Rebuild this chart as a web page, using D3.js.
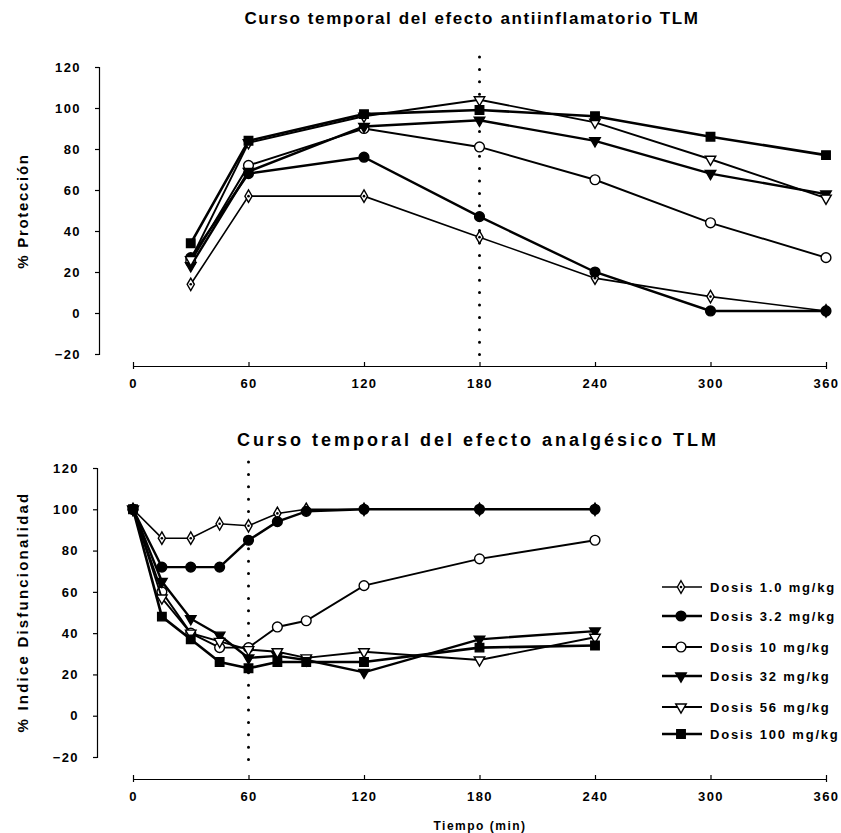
<!DOCTYPE html>
<html>
<head>
<meta charset="utf-8">
<script src="https://cdn.jsdelivr.net/npm/d3@7"></script>
<style>
  body { margin: 0; background: #fff; }
  text { font-family: "Liberation Sans", Arial, sans-serif; font-weight: bold; fill: #000; }
</style>
</head>
<body>
<svg width="841" height="833"></svg>
<script>
// dose groups
var doses = ["Dosis 1.0 mg/kg", "Dosis 3.2 mg/kg", "Dosis 10 mg/kg", "Dosis 32 mg/kg", "Dosis 56 mg/kg", "Dosis 100 mg/kg"];

// top chart: % proteccion
var timesTop = [30, 60, 120, 180, 240, 300, 360];
var top10  = [14, 57, 57, 37, 17, 8, 1];
var top32  = [27, 68, 76, 47, 20, 1, 1];
var top100 = [25, 72, 90, 81, 65, 44, 27];
var top320 = [23, 69, 91, 94, 84, 68, 58];
var top560 = [26, 83, 96, 104, 93, 75, 56];
var top1000 = [34, 84, 97, 99, 96, 86, 77];

// bottom chart: % indice disfuncionalidad
var timesBot = [0, 15, 30, 45, 60, 75, 90, 120, 180, 240];
var bot10  = [100, 86, 86, 93, 92, 98, 100, 100, 100, 100];
var bot32  = [100, 72, 72, 72, 85, 94, 99, 100, 100, 100];
var bot100 = [100, 60, 40, 33, 33, 43, 46, 63, 76, 85];
var bot320 = [100, 65, 47, 39, 28, 29, 27, 21, 37, 41];
var bot560 = [100, 57, 40, 36, 32, 31, 28, 31, 27, 38];
var bot1000 = [100, 48, 37, 26, 23, 26, 26, 26, 33, 34];

var xTicks = [0, 60, 120, 180, 240, 300, 360];
var yTicks = [-20, 0, 20, 40, 60, 80, 100, 120];

var topSeries = [top10, top32, top100, top320, top560, top1000];
var botSeries = [bot10, bot32, bot100, bot320, bot560, bot1000];

// marker style per dose
var styles = [
  {sym: d3.symbolDiamond, size: 45, fill: "#fff", rot: 0, dot: true, width: 1.6},
  {sym: d3.symbolCircle, size: 75, fill: "#000", rot: 0, width: 2.4},
  {sym: d3.symbolCircle, size: 75, fill: "#fff", rot: 0, width: 1.9},
  {sym: d3.symbolTriangle, size: 48, fill: "#000", rot: 180, width: 2.4},
  {sym: d3.symbolTriangle, size: 48, fill: "#fff", rot: 180, width: 1.9},
  {sym: d3.symbolSquare, size: 72, fill: "#000", rot: 0, width: 2.6}
];

var svg = d3.select("svg");

function styleTicks(g) {
  g.selectAll("text")
    .style("font-size", "13px")
    .style("letter-spacing", "1.4px")
    .style("font-family", "Liberation Sans, Arial")
    .style("font-weight", "bold");
  g.selectAll(".domain, .tick line").attr("stroke", "#000").attr("stroke-width", 1.2);
}

function drawPanel(opt) {
  var x = d3.scaleLinear().domain([0, 360]).range([133, 826]);
  var y = d3.scaleLinear().domain([-20, 120]).range(opt.yRange);

  // title
  svg.append("text")
    .attr("x", opt.titleX).attr("y", opt.titleY)
    .attr("text-anchor", "middle")
    .style("font-size", opt.titleSize + "px")
    .style("letter-spacing", opt.titleSpacing + "px")
    .text(opt.title);

  // y axis
  var gy = svg.append("g")
    .attr("transform", "translate(" + opt.yAxisX + ",0)")
    .call(d3.axisLeft(y).tickValues(yTicks).tickSize(4).tickPadding(14).tickSizeOuter(4));
  styleTicks(gy);

  // x axis
  var gx = svg.append("g")
    .attr("transform", "translate(0," + opt.xAxisY + ")")
    .call(d3.axisBottom(x).tickValues(xTicks).tickSizeInner(-4).tickSizeOuter(3).tickPadding(13));
  styleTicks(gx);

  // y label
  svg.append("text")
    .attr("transform", "translate(" + 28 + "," + opt.yLabelY + ") rotate(-90)")
    .attr("text-anchor", "middle")
    .style("font-size", "15px")
    .style("letter-spacing", opt.yLabelSpacing + "px")
    .text(opt.yLabel);

  // dotted line
  svg.append("line")
    .attr("x1", x(opt.dotAt)).attr("x2", x(opt.dotAt))
    .attr("y1", opt.dotY[0]).attr("y2", opt.dotY[1])
    .attr("stroke", "#000")
    .attr("stroke-width", 3)
    .attr("stroke-linecap", "round")
    .attr("stroke-dasharray", "0,12.4");

  var line = d3.line()
    .x(function(d){ return x(d[0]) })
    .y(function(d){ return y(d[1]) });

  opt.series.forEach(function(vals, i) {
    var pts = opt.times.map(function(t, j){ return [t, vals[j]] });
    var s = styles[i];
    svg.append("path")
      .datum(pts)
      .attr("fill", "none")
      .attr("stroke", "#000")
      .attr("stroke-width", s.width)
      .attr("d", line);
    drawMarkers(pts.map(function(p){ return [x(p[0]), y(p[1])] }), s);
  });
}

function drawMarkers(coords, s) {
  var g = svg.append("g");
  g.selectAll("path")
    .data(coords)
    .enter()
    .append("path")
      .attr("transform", function(d){ return "translate(" + d[0] + "," + d[1] + ") rotate(" + s.rot + ")" })
      .attr("d", d3.symbol().type(s.sym).size(s.size))
      .attr("fill", s.fill)
      .attr("stroke", "#000")
      .attr("stroke-width", 1.4);
  if (s.dot) {
    g.selectAll("circle")
      .data(coords)
      .enter()
      .append("circle")
        .attr("cx", function(d){ return d[0] })
        .attr("cy", function(d){ return d[1] })
        .attr("r", 1.3)
        .attr("fill", "#000");
  }
}

drawPanel({
  title: "Curso temporal del efecto antiinflamatorio TLM",
  titleX: 472, titleY: 24, titleSize: 17, titleSpacing: 1.6,
  yRange: [354, 67], yAxisX: 99, xAxisY: 366,
  yLabel: "% Protección", yLabelY: 211, yLabelSpacing: 1.7,
  dotAt: 180, dotY: [57, 362],
  times: timesTop, series: topSeries
});

drawPanel({
  title: "Curso temporal del efecto analgésico TLM",
  titleX: 478, titleY: 446, titleSize: 18, titleSpacing: 3,
  yRange: [757, 468], yAxisX: 97, xAxisY: 779,
  yLabel: "% Indice Disfuncionalidad", yLabelY: 612, yLabelSpacing: 2.2,
  dotAt: 60, dotY: [462, 760],
  times: timesBot, series: botSeries
});

// x axis title
svg.append("text")
  .attr("x", 480).attr("y", 830)
  .attr("text-anchor", "middle")
  .style("font-size", "12px")
  .style("letter-spacing", "1.5px")
  .text("Tiempo (min)");

// legend
var legendY = [587, 616, 647, 676, 707, 734];
var legend = svg.append("g");
doses.forEach(function(name, i) {
  var yy = legendY[i];
  legend.append("line")
    .attr("x1", 662).attr("x2", 702)
    .attr("y1", yy).attr("y2", yy)
    .attr("stroke", "#000")
    .attr("stroke-width", styles[i].width);
  drawMarkers([[681, yy]], styles[i]);
  legend.append("text")
    .attr("x", 710).attr("y", yy + 4.5)
    .style("font-size", "13px")
    .style("letter-spacing", "1.8px")
    .text(name);
});
</script>
</body>
</html>
